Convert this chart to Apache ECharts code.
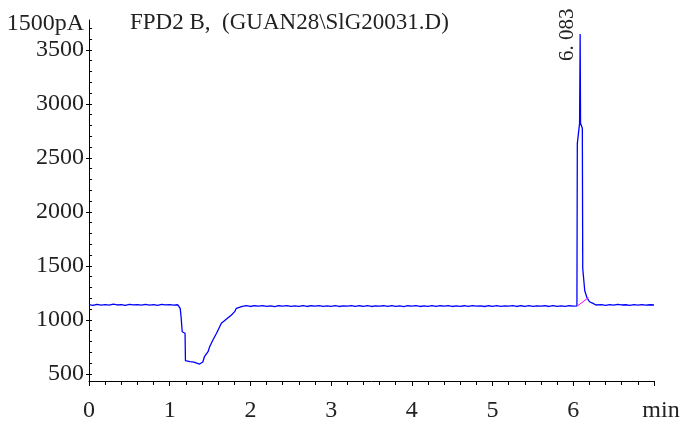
<!DOCTYPE html>
<html><head><meta charset="utf-8">
<script src="https://cdn.jsdelivr.net/npm/echarts@6/dist/echarts.min.js"></script>
<style>html,body{margin:0;padding:0;background:#fff}#c{width:690px;height:425px}</style>
</head><body><div id="c"></div>
<script>
// ---- data (time in min, signal in pA) ----
const preDip = [[0,1140],[0.05,1134],[0.10,1143],[0.15,1136],[0.20,1141],[0.25,1135],[0.30,1144],[0.35,1137],[0.40,1140],[0.45,1133],[0.50,1142],[0.55,1138],[0.60,1141],[0.65,1135],[0.70,1143],[0.75,1136],[0.80,1140],[0.85,1134],[0.90,1142],[0.95,1137],[1.00,1141],[1.05,1135],[1.10,1139]];
const dip = [[1.13,1106],[1.14,1035],[1.155,889],[1.19,875],[1.195,621],[1.25,613],[1.30,608],[1.37,590],[1.41,609],[1.43,658],[1.475,704],[1.495,751],[1.535,813],[1.58,875],[1.64,967],[1.70,1004],[1.765,1044],[1.805,1075],[1.825,1106],[1.845,1121]];
const midBaseline = [[1.90,1125],[1.95,1131],[2.00,1123],[2.05,1130],[2.10,1126],[2.15,1132],[2.20,1124],[2.25,1129],[2.30,1122],[2.35,1130],[2.40,1126],[2.45,1131],[2.50,1124],[2.55,1129],[2.60,1125],[2.65,1132],[2.70,1123],[2.75,1130],[2.80,1126],[2.85,1131],[2.90,1124],[2.95,1128],[3.00,1125],[3.05,1131],[3.10,1123],[3.15,1129],[3.20,1126],[3.25,1132],[3.30,1124],[3.35,1130],[3.40,1125],[3.45,1131],[3.50,1123],[3.55,1129],[3.60,1126],[3.65,1130],[3.70,1124],[3.75,1131],[3.80,1125],[3.85,1129],[3.90,1122],[3.95,1130],[4.00,1126],[4.05,1131],[4.10,1123],[4.15,1129],[4.20,1125],[4.25,1132],[4.30,1124],[4.35,1130],[4.40,1126],[4.45,1131],[4.50,1123],[4.55,1129],[4.60,1125],[4.65,1130],[4.70,1124],[4.75,1131],[4.80,1126],[4.85,1129],[4.90,1123],[4.95,1130],[5.00,1125],[5.05,1131],[5.10,1124],[5.15,1129],[5.20,1126],[5.25,1132],[5.30,1123],[5.35,1130],[5.40,1125],[5.45,1131],[5.50,1124],[5.55,1129],[5.60,1126],[5.65,1130],[5.70,1123],[5.75,1131],[5.80,1125],[5.85,1129],[5.90,1124],[5.95,1130],[6.00,1126]];
const peak = [[6.02,1125],[6.045,1128],[6.05,2634],[6.078,2819],[6.085,3646],[6.09,2819],[6.112,2773],[6.117,1476],[6.14,1476],[6.142,1269],[6.166,1269],[6.168,1208],[6.20,1167],[6.245,1152],[6.28,1137]];
const postPeak = [[6.30,1136],[6.35,1141],[6.40,1134],[6.45,1140],[6.50,1135],[6.55,1142],[6.60,1137],[6.65,1139],[6.70,1134],[6.75,1141],[6.80,1136],[6.85,1140],[6.90,1135],[6.95,1139],[7.00,1137]];
const integrationBaseline = [[6.049,1127],[6.186,1204]];
const peakLabelText = '6. 083';
const peakLabelPos = [6.085, 3640];
const yMajorTicks = [500,1000,1500,2000,2500,3000,3500];
const yMinorTicks = [500,600,700,800,900,1000,1100,1200,1300,1400,1500,1600,1700,1800,1900,2000,2100,2200,2300,2400,2500,2600,2700,2800,2900,3000,3100,3200,3300,3400,3500,3600,3700];
const xTickLabels = ['0','1','2','3','4','5','6','min'];
const yTopLabel = '1500pA';
const titleText = 'FPD2 B,  (GUAN28\\SlG20031.D)';

const trace = preDip.concat(dip, midBaseline, peak, postPeak);
const YMIN = 433, YMAX = 3776;
const FONT = 'Liberation Serif';
const TXT = '#222';

const chart = echarts.init(document.getElementById('c'), null, {renderer:'canvas'});
chart.setOption({
  animation: false,
  backgroundColor: '#fff',
  grid: {left: 89, right: 36, top: 20, bottom: 44, containLabel: false},
  graphic: [
    {type:'text', right: 690-84, top: 12, style:{text: yTopLabel, font: '24px "' + FONT + '"', fill: TXT, textAlign:'right'}},
    {type:'text', left: 130, top: 11, style:{text: titleText, font: '23px "' + FONT + '"', fill: TXT}}
  ],
  xAxis: {
    type: 'value', min: 0, max: 7, interval: 1,
    axisLine: {show: true, lineStyle: {color: '#000', width: 1}},
    axisTick: {show: true, length: 5, lineStyle: {color: '#000'}},
    minorTick: {show: true, splitNumber: 5, length: 4, lineStyle: {color: '#000'}},
    splitLine: {show: false},
    axisLabel: {
      margin: 18, fontFamily: FONT, fontSize: 24, color: TXT,
      formatter: v => { const s = xTickLabels[Math.round(v)]; return s === 'min' ? '{m|min}' : s; },
      rich: {m: {fontFamily: FONT, fontSize: 24, color: TXT, padding: [0,0,0,14]}}
    }
  },
  yAxis: [
    {
      type: 'value', min: YMIN, max: YMAX,
      axisLine: {show: true, lineStyle: {color: '#000', width: 1}},
      axisTick: {show: true, length: 3, customValues: yMajorTicks, lineStyle: {color: '#000'}},
      axisLabel: {show: true, customValues: yMajorTicks, margin: 5, fontFamily: FONT, fontSize: 24, color: TXT,
                  formatter: v => String(v)},
      splitLine: {show: false}
    },
    {
      type: 'value', min: YMIN, max: YMAX, position: 'left',
      axisLine: {show: false},
      axisTick: {show: true, inside: true, length: 3, customValues: yMinorTicks, lineStyle: {color: '#000'}},
      axisLabel: {show: false},
      splitLine: {show: false}
    }
  ],
  series: [
    {
      type: 'line', data: trace, showSymbol: false, symbol: 'none',
      lineStyle: {color: '#0000ff', width: 1.3}, z: 2,
      markPoint: {
        symbol: 'circle', symbolSize: 0, silent: true,
        data: [{coord: peakLabelPos}],
        label: {show: true, formatter: peakLabelText, position: 'inside', rotate: 90, offset: [0, -13],
                fontFamily: FONT, fontSize: 21, color: TXT}
      }
    },
    {
      type: 'line', data: integrationBaseline, showSymbol: false, symbol: 'none',
      lineStyle: {color: '#ff00ff', width: 1}, z: 3
    }
  ]
});
</script></body></html>
